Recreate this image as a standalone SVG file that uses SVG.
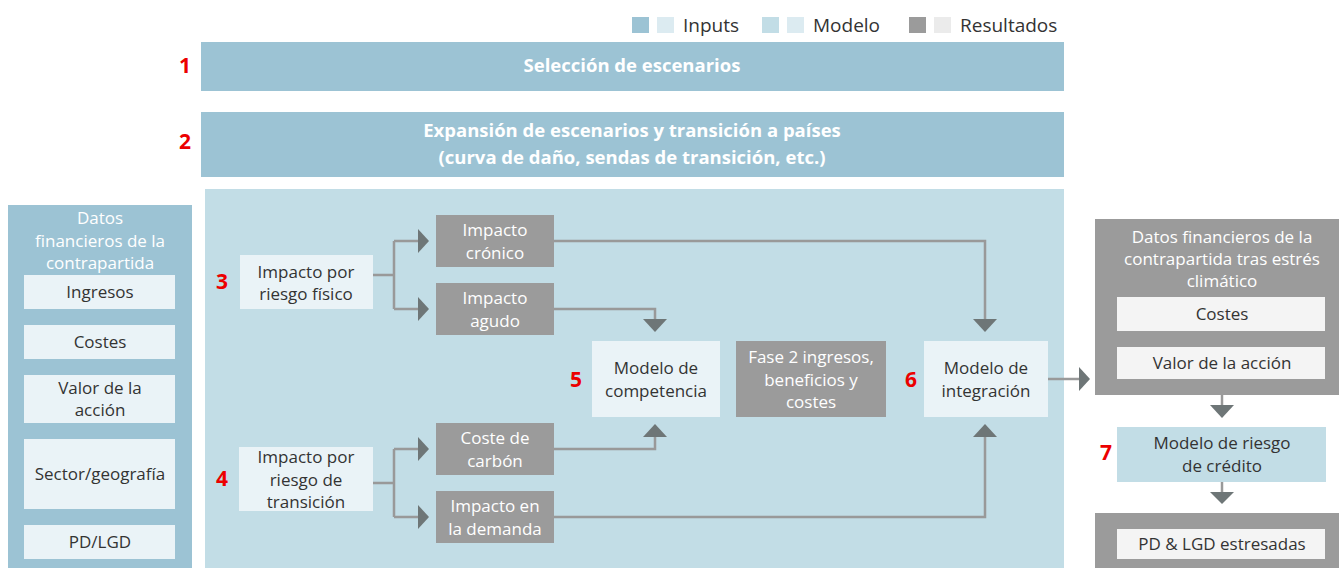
<svg xmlns="http://www.w3.org/2000/svg" width="1339" height="568" viewBox="0 0 1339 568">
<style>
.t{font-family:"Open Sans","Liberation Sans",sans-serif;font-size:17px;fill:#333;text-anchor:middle}
.w{fill:#fff}
.hd{font-family:"Open Sans","Liberation Sans",sans-serif;font-size:18.5px;font-weight:bold;fill:#fff;text-anchor:middle}
.num{font-family:"Open Sans","Liberation Sans",sans-serif;font-size:21px;font-weight:bold;fill:#ec0000;text-anchor:middle}
.lg{font-family:"Open Sans","Liberation Sans",sans-serif;font-size:19px;fill:#333}
.inp{fill:#9cc3d4}
.mod{fill:#c2dde6}
.res{fill:#9b9b9b}
.lt{fill:#eaf3f7}
.rl{fill:#f4f4f4}
.ln{fill:none;stroke:#999;stroke-width:2.5}
.ah{fill:#6e7677}
</style>

<g id="legend">
<rect x="632" y="17" width="17" height="16" fill="#9cc3d4"/>
<rect x="657" y="17" width="17" height="16" fill="#dcebf1"/>
<text class="lg" x="683" y="32">Inputs</text>
<rect x="762" y="17" width="17" height="16" fill="#c2dde6"/>
<rect x="787" y="17" width="17" height="16" fill="#dcebf1"/>
<text class="lg" x="813" y="32">Modelo</text>
<rect x="909" y="17" width="17" height="16" fill="#9b9b9b"/>
<rect x="934" y="17" width="17" height="16" fill="#ebebeb"/>
<text class="lg" x="960" y="32">Resultados</text>
</g>

<g id="bar1">
<rect class="inp" x="201" y="42" width="863" height="49"/>
<text class="hd" x="632" y="72">Selección de escenarios</text>
<text class="num" x="185" y="73">1</text>
</g>

<g id="bar2">
<rect class="inp" x="201" y="112" width="863" height="65"/>
<text class="hd" x="632" y="137">Expansión de escenarios y transición a países</text>
<text class="hd" x="632" y="164">(curva de daño, sendas de transición, etc.)</text>
<text class="num" x="185" y="149">2</text>
</g>

<g id="model-area">
<rect class="mod" x="205" y="189" width="859" height="379"/>
</g>

<g id="datos-input">
<rect class="inp" x="8" y="205" width="184" height="363"/>
<text class="t w" x="100" y="224">Datos</text>
<text class="t w" x="100" y="247">financieros de la</text>
<text class="t w" x="100" y="269">contrapartida</text>
</g>
<g id="ingresos"><rect class="lt" x="24" y="275" width="151" height="34"/><text class="t" x="100" y="298">Ingresos</text></g>
<g id="costes-in"><rect class="lt" x="24" y="325" width="151" height="34"/><text class="t" x="100" y="348">Costes</text></g>
<g id="valor-in"><rect class="lt" x="24" y="375" width="151" height="48"/><text class="t" x="100" y="394">Valor de la</text><text class="t" x="100" y="416">acción</text></g>
<g id="sector"><rect class="lt" x="24" y="439" width="151" height="70"/><text class="t" x="100" y="480">Sector/geografía</text></g>
<g id="pdlgd-in"><rect class="lt" x="24" y="525" width="151" height="34"/><text class="t" x="100" y="548">PD/LGD</text></g>

<g id="fisico">
<rect class="lt" x="240" y="255" width="133" height="54"/>
<text class="t" x="306" y="278">Impacto por</text>
<text class="t" x="306" y="300">riesgo físico</text>
<text class="num" x="222" y="289">3</text>
</g>
<g id="transicion">
<rect class="lt" x="239" y="447" width="134" height="64"/>
<text class="t" x="306" y="463">Impacto por</text>
<text class="t" x="306" y="486">riesgo de</text>
<text class="t" x="306" y="508">transición</text>
<text class="num" x="222" y="486">4</text>
</g>

<g id="cronico"><rect class="res" x="436" y="215" width="118" height="52"/><text class="t w" x="495" y="236">Impacto</text><text class="t w" x="495" y="259">crónico</text></g>
<g id="agudo"><rect class="res" x="436" y="283" width="118" height="52"/><text class="t w" x="495" y="304">Impacto</text><text class="t w" x="495" y="327">agudo</text></g>
<g id="carbon"><rect class="res" x="436" y="423" width="118" height="52"/><text class="t w" x="495" y="444">Coste de</text><text class="t w" x="495" y="467">carbón</text></g>
<g id="demanda"><rect class="res" x="436" y="491" width="118" height="52"/><text class="t w" x="495" y="512">Impacto en</text><text class="t w" x="495" y="535">la demanda</text></g>

<g id="competencia">
<rect class="lt" x="592" y="341" width="128" height="76"/>
<text class="t" x="656" y="374">Modelo de</text>
<text class="t" x="656" y="397">competencia</text>
<text class="num" x="576" y="387">5</text>
</g>
<g id="fase2">
<rect class="res" x="736" y="341" width="150" height="76"/>
<text class="t w" x="811" y="363">Fase 2 ingresos,</text>
<text class="t w" x="811" y="386">beneficios y</text>
<text class="t w" x="811" y="408">costes</text>
</g>
<g id="integracion">
<rect class="lt" x="924" y="341" width="124" height="76"/>
<text class="t" x="986" y="374">Modelo de</text>
<text class="t" x="986" y="397">integración</text>
<text class="num" x="911" y="387">6</text>
</g>

<g id="datos-estres">
<rect class="res" x="1095" y="219" width="244" height="176"/>
<text class="t w" x="1222" y="243">Datos financieros de la</text>
<text class="t w" x="1222" y="265">contrapartida tras estrés</text>
<text class="t w" x="1222" y="287">climático</text>
</g>
<g id="costes-out"><rect class="rl" x="1117" y="297" width="208" height="34"/><text class="t" x="1222" y="320">Costes</text></g>
<g id="valor-out"><rect class="rl" x="1117" y="347" width="208" height="32"/><text class="t" x="1222" y="369">Valor de la acción</text></g>

<g id="riesgo-credito">
<rect class="mod" x="1117" y="427" width="209" height="55"/>
<text class="t" x="1222" y="449">Modelo de riesgo</text>
<text class="t" x="1222" y="472">de crédito</text>
<text class="num" x="1106" y="460">7</text>
</g>

<g id="pdlgd-out">
<rect class="res" x="1095" y="513" width="244" height="55"/>
<rect class="rl" x="1117" y="529" width="208" height="30"/>
<text class="t" x="1222" y="550">PD &amp; LGD estresadas</text>
</g>

<g id="connectors">
<path class="ln" d="M373 275H394M394 241V309M394 241H419M394 309H419"/>
<polygon class="ah" points="418,229 429,241 418,253"/>
<polygon class="ah" points="418,297 429,309 418,321"/>
<path class="ln" d="M373 483H394M394 449V517M394 449H419M394 517H419"/>
<polygon class="ah" points="418,437 429,449 418,461"/>
<polygon class="ah" points="418,505 429,517 418,529"/>
<path class="ln" d="M554 241H985V320"/>
<polygon class="ah" points="973,319 997,319 985,332"/>
<path class="ln" d="M554 309H655V320"/>
<polygon class="ah" points="643,319 667,319 655,332"/>
<path class="ln" d="M554 449H655V436"/>
<polygon class="ah" points="643,437 667,437 655,424"/>
<path class="ln" d="M554 517H985V436"/>
<polygon class="ah" points="973,437 997,437 985,424"/>
<path class="ln" d="M1048 379H1080"/>
<polygon class="ah" points="1079,367 1090,379 1079,391"/>
<path class="ln" d="M1222 395V406"/>
<polygon class="ah" points="1210,405 1234,405 1222,418"/>
<path class="ln" d="M1222 482V493"/>
<polygon class="ah" points="1210,492 1234,492 1222,504"/>
</g>
</svg>
